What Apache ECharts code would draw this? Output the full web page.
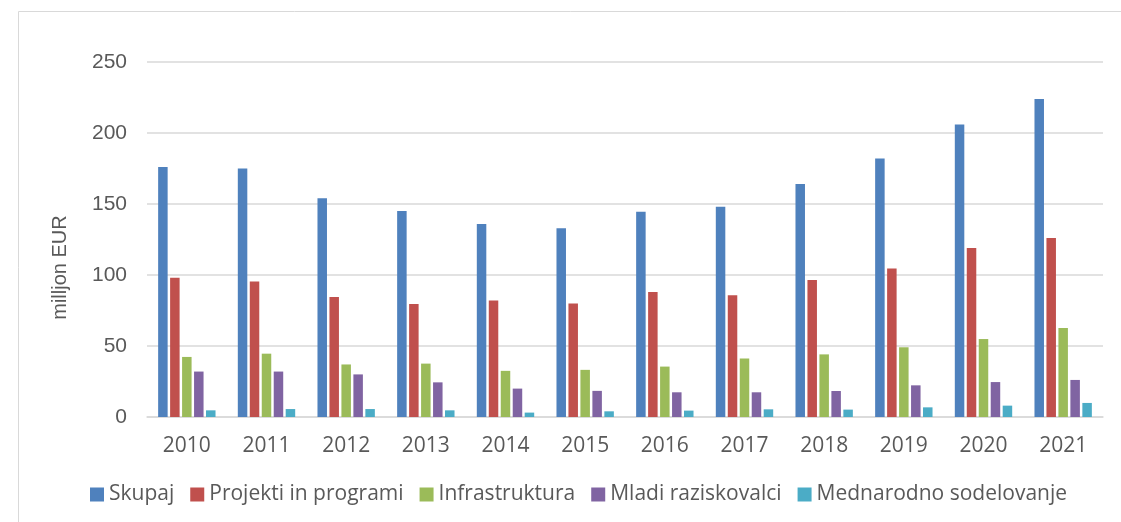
<!DOCTYPE html>
<html>
<head>
<meta charset="utf-8">
<script src="https://cdn.jsdelivr.net/npm/echarts@6/dist/echarts.min.js"></script>
<style>
html,body{margin:0;padding:0;background:#fff;}
#chart{width:1121px;height:522px;}
</style>
</head>
<body>
<div id="chart"></div>
<script>
const years = ['2010','2011','2012','2013','2014','2015','2016','2017','2018','2019','2020','2021'];
const seriesNames = ['Skupaj','Projekti in programi','Infrastruktura','Mladi raziskovalci','Mednarodno sodelovanje'];
const skupaj = [176, 175, 154, 145, 136, 133, 144.5, 148, 164, 182, 206, 224];
const projekti = [98, 95.5, 84.5, 79.5, 82, 80, 88, 85.7, 96.5, 104.5, 119, 126];
const infrastruktura = [42.3, 44.6, 37, 37.6, 32.5, 33.2, 35.5, 41.2, 44.1, 49.1, 54.9, 62.7];
const mladi = [32, 32, 30, 24.4, 20, 18.4, 17.4, 17.4, 18.3, 22.3, 24.6, 26.1];
const mednarodno = [4.7, 5.6, 5.6, 4.7, 3.1, 4, 4.5, 5.4, 5.2, 6.8, 8, 9.9];
const yTicks = {min: 0, max: 250, interval: 50};
const yTitle = 'milljon EUR';

const colors = ['#4F81BD','#C0504D','#9BBB59','#8064A2','#4BACC6'];
const values = [skupaj, projekti, infrastruktura, mladi, mednarodno];

const chart = echarts.init(document.getElementById('chart'), null, {renderer:'canvas'});
chart.setOption({
  animation: false,
  color: colors,
  graphic: [{
    type: 'rect', left: 16, top: 9, shape: {width: 1200, height: 600},
    style: {fill: 'none', stroke: '#d9d9d9', lineWidth: 1}, silent: true, z: -1
  }],
  grid: {left: 147, right: 18, top: 62, bottom: 105},
  legend: {
    left: 85, top: 479, itemWidth: 14, itemHeight: 14, itemGap: 16,
    icon: 'rect',
    textStyle: {fontFamily: 'Open Sans', fontSize: 21, color: '#595959'},
    data: seriesNames
  },
  xAxis: {
    type: 'category', data: years,
    axisLine: {lineStyle: {color: '#d9d9d9', width: 1.5}},
    axisTick: {show: false},
    axisLabel: {fontFamily: 'Open Sans', fontSize: 21, color: '#595959', margin: 19}
  },
  yAxis: {
    type: 'value', min: yTicks.min, max: yTicks.max, interval: yTicks.interval,
    name: yTitle, nameLocation: 'middle', nameGap: 77, nameRotate: 90,
    nameTextStyle: {fontFamily: 'Liberation Sans', fontSize: 20, color: '#595959', padding: [0, 56, 0, 0]},
    axisLine: {show: false}, axisTick: {show: false},
    axisLabel: {fontFamily: 'Liberation Sans', fontSize: 21, color: '#595959', margin: 20},
    splitLine: {lineStyle: {color: '#d9d9d9', width: 1.5}}
  },
  series: seriesNames.map((n, i) => ({
    name: n, type: 'bar', data: values[i],
    barWidth: 9.5, barGap: '26%'
  }))
});
</script>
</body>
</html>
